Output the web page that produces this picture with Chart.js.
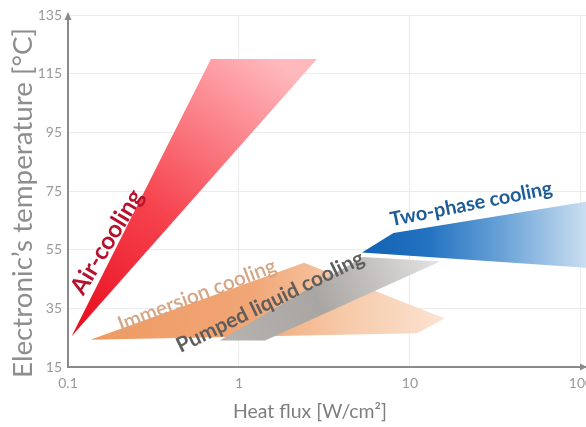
<!DOCTYPE html>
<html>
<head>
<meta charset="utf-8">
<script src="https://cdn.jsdelivr.net/npm/chart.js@4/dist/chart.umd.min.js"></script>
<style>
  html, body { margin: 0; padding: 0; background: #fff; }
  #wrap { width: 586px; height: 427px; }
</style>
</head>
<body>
<div id="wrap"><canvas id="c" width="586" height="427"></canvas></div>
<script>
// Axis ticks
const xTicks = [0.1, 1, 10, 100];
const xTickLabels = ['0.1', '1', '10', '100'];
const yTicks = [15, 35, 55, 75, 95, 115, 135];

// Cooling regions: outline vertices as heat flux [W/cm²] and temperature [°C]
const airFlux = [0.105, 0.685, 2.86];
const airTemp = [25.5, 120, 120];
const immersionFlux = [0.135, 2.4, 16, 11];
const immersionTemp = [24.3, 50.5, 31.5, 26.5];
const pumpedFlux = [0.77, 5.3, 15, 1.42];
const pumpedTemp = [24, 52.5, 51, 24];
const twoPhaseFlux = [5.24, 8, 107, 107];
const twoPhaseTemp = [54, 60.7, 71.3, 48.8];

// Region names and where they sit on the plot
const regionNames = ['Air-cooling', 'Immersion cooling', 'Pumped liquid cooling', 'Two-phase cooling'];
const labelFlux = [0.169, 0.568, 1.52, 22.8];
const labelTemp = [57.6, 39.5, 37.2, 70.6];

const xTitle = 'Heat flux [W/cm²]';
const yTitle = 'Electronic\u2019s temperature [°C]';

const FONT = 'Lato, "Open Sans", sans-serif';

// text styling for the region names
const labelStyle = [
  { angle: -59, width: 118, weight: 'bold', color: '#b5122c' },
  { angle: -21, width: 168, weight: '600', color: '#d6a684' },
  { angle: -26, width: 206, weight: 'bold', color: '#5e5e5e' },
  { angle: -11.2, width: 165, weight: 'bold', color: '#1d5c96' }
];

function toPoints(xs, ys) {
  return xs.map((x, i) => ({ x: x, y: ys[i] }));
}

// gradient running between two data points, in pixel space
function gradientFill(p0, p1, stops, fallback) {
  return (context) => {
    const chart = context.chart;
    const xs = chart.scales.x, ys = chart.scales.y;
    if (!chart.chartArea || !xs || !ys) return fallback;
    const g = chart.ctx.createLinearGradient(
      xs.getPixelForValue(p0[0]), ys.getPixelForValue(p0[1]),
      xs.getPixelForValue(p1[0]), ys.getPixelForValue(p1[1]));
    stops.forEach(s => g.addColorStop(s[0], s[1]));
    return g;
  };
}

function region(xs, ys, bg, order) {
  return {
    data: toPoints(xs, ys),
    fill: 'shape',
    backgroundColor: bg,
    borderWidth: 0,
    borderColor: 'rgba(0,0,0,0)',
    pointRadius: 0,
    pointHoverRadius: 0,
    tension: 0,
    order: order,
    clip: false
  };
}

function fittedText(ctx, text, cx, cy, angleDeg, width, weight, color) {
  ctx.save();
  ctx.translate(cx, cy);
  ctx.rotate(angleDeg * Math.PI / 180);
  ctx.font = weight + ' 20px ' + FONT;
  const w = ctx.measureText(text).width;
  const size = 20 * width / w;
  ctx.font = weight + ' ' + size.toFixed(2) + 'px ' + FONT;
  ctx.fillStyle = color;
  ctx.textAlign = 'center';
  ctx.textBaseline = 'middle';
  ctx.fillText(text, 0, 0);
  ctx.restore();
}

const decorations = {
  id: 'decorations',
  afterDraw(chart) {
    const ctx = chart.ctx;
    const xs = chart.scales.x, ys = chart.scales.y;
    const area = chart.chartArea;

    // axis arrow heads
    ctx.save();
    ctx.fillStyle = '#8a8a8a';
    ctx.beginPath();
    ctx.moveTo(area.left - 3.5, area.top + 5);
    ctx.lineTo(area.left + 3.5, area.top + 5);
    ctx.lineTo(area.left, area.top - 3);
    ctx.closePath();
    ctx.fill();
    ctx.beginPath();
    ctx.moveTo(area.right - 6, area.bottom - 3.5);
    ctx.lineTo(area.right - 6, area.bottom + 3.5);
    ctx.lineTo(area.right + 1, area.bottom);
    ctx.closePath();
    ctx.fill();
    ctx.restore();

    // region names
    regionNames.forEach((name, i) => {
      const s = labelStyle[i];
      fittedText(ctx, name, xs.getPixelForValue(labelFlux[i]), ys.getPixelForValue(labelTemp[i]),
        s.angle, s.width, s.weight, s.color);
    });

    // axis titles
    fittedText(ctx, yTitle, 23, 203, -90, 350, 'normal', '#8e8e8e');
    fittedText(ctx, xTitle, 310, 412, 0, 154, 'normal', '#7e7e7e');
  }
};

new Chart(document.getElementById('c'), {
  type: 'line',
  data: {
    datasets: [
      region(twoPhaseFlux, twoPhaseTemp,
        gradientFill([5.24, 60], [107, 60],
          [[0, '#1262b3'], [0.3, '#2473c1'], [0.65, '#6fa6d8'], [1, '#cadef1']], '#2a78c4'), 0),
      region(pumpedFlux, pumpedTemp,
        gradientFill([0.77, 24], [15, 51],
          [[0, '#b6b3b1'], [0.45, '#a9a5a2'], [1, '#e3e3e3']], '#b0b0b0'), 1),
      region(immersionFlux, immersionTemp,
        gradientFill([0.135, 35], [16, 35],
          [[0, '#ee9a62'], [0.45, '#f1a676'], [0.72, '#f6caa9'], [1, '#fbe3d2']], '#f0a878'), 2),
      region(airFlux, airTemp,
        gradientFill([0.105, 25.5], [1.6, 120],
          [[0, '#e80c1c'], [0.45, '#f6444f'], [1, '#ffb9bd']], '#f05060'), 3)
    ]
  },
  options: {
    responsive: false,
    animation: false,
    devicePixelRatio: 1,
    layout: { padding: { top: 15, right: 0, left: 0, bottom: 0 } },
    plugins: {
      legend: { display: false },
      tooltip: { enabled: false }
    },
    scales: {
      x: {
        type: 'logarithmic',
        min: 0.1,
        max: 107,
        afterBuildTicks: (scale) => { scale.ticks = xTicks.map(v => ({ value: v })); },
        afterFit: (scale) => { scale.height = 60; scale.paddingLeft = 0; scale.paddingRight = 0; },
        ticks: {
          callback: (v, i) => xTickLabels[i],
          font: { family: FONT, size: 14 },
          color: '#9a9a9a',
          padding: 8,
          autoSkip: false,
          maxRotation: 0
        },
        grid: { color: '#ececec', lineWidth: 1, drawTicks: false },
        border: { color: '#8a8a8a', width: 2 }
      },
      y: {
        type: 'linear',
        min: 15,
        max: 135,
        afterBuildTicks: (scale) => { scale.ticks = yTicks.map(v => ({ value: v })); },
        afterFit: (scale) => { scale.width = 68; scale.paddingTop = 0; scale.paddingBottom = 0; },
        ticks: {
          font: { family: FONT, size: 14 },
          color: '#9a9a9a',
          padding: 6
        },
        grid: { color: '#ececec', lineWidth: 1, drawTicks: false },
        border: { color: '#8a8a8a', width: 2 }
      }
    }
  },
  plugins: [decorations]
});
</script>
</body>
</html>
